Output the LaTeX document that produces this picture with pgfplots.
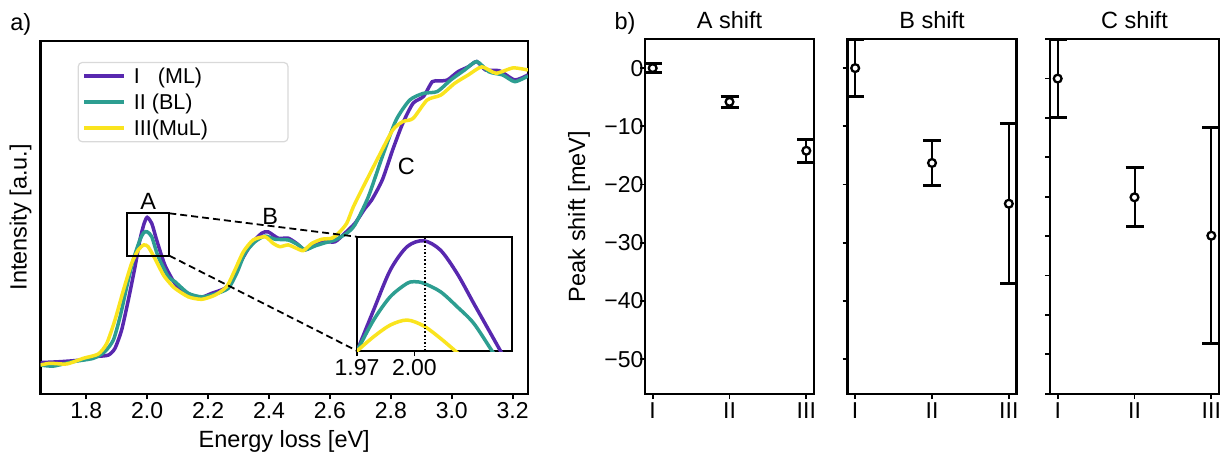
\documentclass[border=0pt]{standalone}
\usepackage{fontspec}
\setmainfont{Liberation Sans}
\usepackage{pgfplots}
\pgfplotsset{compat=1.18}

\definecolor{cI}{RGB}{88,40,175}
\definecolor{cII}{RGB}{45,158,145}
\definecolor{cIII}{RGB}{250,228,30}

\newcommand{\lblfont}{\fontsize{23.5}{26}\selectfont}
\newcommand{\tckfont}{\fontsize{23}{25}\selectfont}

\pgfplotsset{
  every axis/.append style={
    scale only axis,
    axis line style={line width=2.2pt},
    tick style={line width=1.8pt, black},
    tick align=outside,
    major tick length=5pt,
    tick label style={font=\tckfont},
    label style={font=\lblfont},
    title style={font=\lblfont},
    every axis title shift=0pt,
    /pgf/number format/assume math mode=true,
  },
  shiftax/.style={
    width=169pt, height=355pt,
    xmin=-0.1, xmax=2.1, ymin=-56, ymax=5,
    xtick={0,1,2}, xticklabels={I,II,III},
    xtick pos=lower, ytick pos=left,
    clip=false,
    yticklabel style={xshift=7pt},
    title style={at={(axis description cs:0.5,1)}, anchor=center, yshift=19pt},
  },
  shiftplot/.style={
    black, only marks, mark=*, mark size=3.9pt,
    mark options={fill=white, draw=black, line width=2.3pt},
    error bars/.cd, y dir=both, y explicit,
    error bar style={line width=2pt, black},
    error mark options={rotate=90, line width=3pt, mark size=9pt, black},
  },
}

\begin{document}
\begin{tikzpicture}
\path[use as bounding box] (0pt,0pt) rectangle (1220pt,456pt);

\node[font=\lblfont] at (20.7pt,432pt) {a)};
\node[font=\lblfont] at (625pt,433pt) {b)};

% ---- panel a: spectra
\begin{axis}[
  at={(40.6pt,62pt)}, anchor=south west,
  width=487.3pt, height=353.3pt,
  xmin=1.65, xmax=3.25, ymin=0, ymax=100,
  xtick={1.8,2.0,2.2,2.4,2.6,2.8,3.0,3.2},
  xticklabels={1.8,2.0,2.2,2.4,2.6,2.8,3.0,3.2},
  ytick=\empty, xtick pos=lower,
  xlabel={Energy loss [eV]},
  ylabel={Intensity [a.u.]},
  xlabel style={at={(axis description cs:0.5,-0.135)}, anchor=center},
  ylabel style={at={(axis description cs:-0.041,0.5)}, anchor=center},
  legend style={at={(0.076,0.94)}, anchor=north west, draw=black!15,
    line width=1.2pt, rounded corners=4pt, fill=white,
    font=\fontsize{21.5}{23}\selectfont, inner xsep=4pt, inner ysep=3pt, row sep=5pt},
  legend cell align=left,
  legend image code/.code={\draw[#1, line width=4pt] (0pt,0pt) -- (40pt,0pt); \path (46pt,0pt);},
]
\addplot[cI, line width=3.5pt, smooth, tension=0.4] coordinates {
(1.65,8.9) (1.714,9.15) (1.779,9.6) (1.834,10.6) (1.872,11.0) (1.894,12.9)
(1.916,18.1) (1.938,26.6) (1.96,36.0) (1.976,43.6) (1.99,48.3) (2.0,50.0)
(2.015,48.3) (2.031,43.6) (2.058,36.5) (2.091,31.3) (2.124,28.5) (2.168,27.1)
(2.212,28.5) (2.255,29.9) (2.277,32.3) (2.31,37.9) (2.343,42.6) (2.376,45.5)
(2.397,45.9) (2.43,44.1) (2.463,44.1) (2.491,42.6) (2.518,40.8) (2.551,42.2)
(2.584,43.1) (2.617,43.1) (2.649,45.5) (2.682,48.3) (2.715,52.5) (2.737,54.9)
(2.772,60.6) (2.806,69.1) (2.839,76.6) (2.873,82.3) (2.907,84.2) (2.936,88.4)
(2.958,88.6) (2.986,88.9) (3.02,91.2) (3.054,92.6) (3.082,94.1) (3.111,91.7)
(3.156,91.5) (3.207,88.9) (3.25,90.3)};
\addplot[cII, line width=3.5pt, smooth, tension=0.4] coordinates {
(1.65,8.2) (1.692,7.9) (1.757,9.15) (1.823,10.1) (1.861,12.0) (1.889,15.3)
(1.911,21.9) (1.933,30.4) (1.954,37.9) (1.976,43.6) (1.989,45.7) (2.0,45.9)
(2.015,44.5) (2.036,38.9) (2.069,33.2) (2.091,31.8) (2.135,28.5) (2.179,27.5)
(2.223,28.3) (2.266,29.9) (2.294,34.2) (2.321,39.8) (2.354,43.1) (2.387,44.7)
(2.42,43.8) (2.463,43.6) (2.496,42.2) (2.518,40.8) (2.551,41.9) (2.584,42.8)
(2.617,43.6) (2.655,45.5) (2.682,47.9) (2.726,55.8) (2.772,67.2) (2.817,77.5)
(2.862,83.2) (2.907,85.1) (2.952,85.6) (2.997,88.9) (3.042,91.7) (3.082,94.1)
(3.122,91.2) (3.167,90.3) (3.207,88.4) (3.25,90.0)};
\addplot[cIII, line width=3.5pt, smooth, tension=0.4] coordinates {
(1.65,8.2) (1.681,8.7) (1.736,8.5) (1.79,10.1) (1.839,11.3) (1.867,14.3)
(1.894,20.9) (1.922,29.4) (1.949,37.0) (1.971,40.8) (1.989,42.2) (2.003,41.7)
(2.025,38.4) (2.053,33.7) (2.075,31.3) (2.091,29.9) (2.135,27.5) (2.179,26.8)
(2.223,28.0) (2.261,30.4) (2.288,35.1) (2.316,40.3) (2.348,43.6) (2.387,44.5)
(2.414,42.6) (2.436,41.7) (2.463,42.2) (2.491,41.2) (2.513,40.6) (2.54,42.6)
(2.573,43.8) (2.606,44.1) (2.628,45.5) (2.655,48.3) (2.677,53.0) (2.715,59.6)
(2.76,67.2) (2.806,74.7) (2.839,77.1) (2.873,78.0) (2.919,83.2) (2.964,84.6)
(3.009,87.9) (3.054,90.3) (3.099,92.6) (3.145,90.8) (3.201,92.3) (3.25,91.7)};
\legend{\makebox[148pt][l]{I\hspace{18pt}(ML)}, \makebox[148pt][l]{II (BL)}, \makebox[148pt][l]{III(MuL)}}
\draw[line width=1.8pt] (axis cs:1.9327,39.15) rectangle (axis cs:2.0726,51.15);
\draw[line width=1.8pt, dash pattern=on 7pt off 4pt] (axis cs:2.0726,51.15) -- (axis cs:2.689,44.5);
\draw[line width=1.8pt, dash pattern=on 7pt off 4pt] (axis cs:2.0726,39.15) -- (axis cs:2.689,12.2);
\node[font=\lblfont] at (axis cs:2.003,54.4) {A};
\node[font=\lblfont] at (axis cs:2.404,50.2) {B};
\node[font=\lblfont] at (axis cs:2.851,64.3) {C};
\end{axis}

% ---- inset
\begin{axis}[
  at={(357pt,105pt)}, anchor=south west,
  width=155pt, height=114.3pt,
  xmin=1.97, xmax=2.051, ymin=0, ymax=100,
  xtick={1.97,2.00}, xticklabels={1.97,2.00},
  ytick=\empty, xtick pos=lower,
  axis background/.style={fill=white},
]
\addplot[cI, line width=3.5pt, smooth, tension=0.5] coordinates {
(1.966,-16) (1.97,0) (1.9787,35.9) (1.9874,70.8) (1.9962,91.3) (2.0049,96.5)
(2.0136,88.3) (2.0223,67.9) (2.031,41.7) (2.0398,15.5) (2.045,0) (2.049,-12)};
\addplot[cII, line width=3.5pt, smooth, tension=0.5] coordinates {
(1.966,-12) (1.97,0) (1.9787,27.1) (1.9874,47.5) (1.9962,59.2) (2.0005,60.6)
(2.0049,59.2) (2.0136,51.9) (2.0223,38.8) (2.031,24.2) (2.0406,0) (2.045,-10)};
\addplot[cIII, line width=3.5pt, smooth, tension=0.5] coordinates {
(1.966,-6) (1.97,0) (1.9787,12.5) (1.9874,22.7) (1.9962,27.1) (2.0049,21.9)
(2.0136,11.1) (2.0214,0) (2.026,-7)};
\draw[line width=1.6pt, dash pattern=on 1.6pt off 2pt] (axis cs:2.0054,0) -- (axis cs:2.0054,100);
\end{axis}

% ---- panel b: peak shifts
\begin{axis}[shiftax, at={(645pt,62pt)}, anchor=south west,
  title={A shift},
  ytick={0,-10,-20,-30,-40,-50},
  yticklabels={0,−10,−20,−30,−40,−50},
  ylabel={Peak shift [meV]},
  ylabel style={at={(axis description cs:-0.39,0.5)}, anchor=center},
]
\addplot[shiftplot] coordinates {(0,0) +- (0,0.8) (1,-5.8) +- (0,0.9) (2,-14.2) +- (0,2.0)};
\end{axis}

\begin{axis}[shiftax, at={(847.5pt,62pt)}, anchor=south west,
  title={B shift},
  ytick={0,-10,-20,-30,-40,-50}, yticklabels={},
]
\addplot[shiftplot] coordinates {(0,0) +- (0,4.9) (1,-16.3) +- (0,3.85) (2,-23.3) +- (0,13.75)};
\end{axis}

\begin{axis}[shiftax, at={(1050pt,62pt)}, anchor=south west,
  title={C shift},
  ytick={4.98,-1.79,-8.56,-15.33,-22.1,-28.87,-35.64,-42.41,-49.18,-55.95}, yticklabels={},
]
\addplot[shiftplot] coordinates {(0,-1.8) +- (0,6.65) (1,-22.2) +- (0,5.1) (2,-28.8) +- (0,18.6)};
\end{axis}
\end{tikzpicture}
\end{document}
